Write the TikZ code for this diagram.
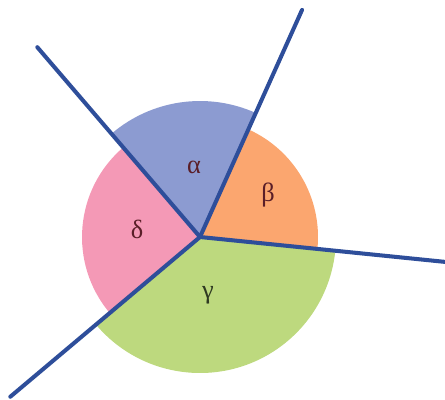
\documentclass[tikz,border=0pt]{standalone}
\usepackage{fontspec}
\setmainfont{Liberation Serif}
\definecolor{lineBlue}{HTML}{2E4E9A}
\definecolor{secA}{HTML}{8C9BD1}
\definecolor{secB}{HTML}{FBA66F}
\definecolor{secC}{HTML}{BDD97E}
\definecolor{secD}{HTML}{F499B6}
\definecolor{labRed}{HTML}{5A1E28}
\definecolor{labDark}{HTML}{2F3A22}

\begin{document}
\begin{tikzpicture}[x=0.02cm,y=0.02cm,
  ray/.style={draw=lineBlue,line width=2.3pt,line cap=round},
  lab/.style={font=\fontsize{15}{15}\selectfont,text=labRed}]
  \useasboundingbox (-200,-162) rectangle (245,237);
  \coordinate (O) at (0,0);
  \fill[secA] (O) -- (65.8:136) arc[start angle=65.8,end angle=130.6,radius=136] -- cycle;
  \fill[secD] (O) -- (130.6:118) arc[start angle=130.6,end angle=220.1,radius=118] -- cycle;
  \fill[secC] (O) -- (220.1:136) arc[start angle=220.1,end angle=354.2,radius=136] -- cycle;
  \fill[secB] (O) -- (-5.8:118) arc[start angle=-5.8,end angle=65.8,radius=118] -- cycle;
  \node[lab] (alpha) at (-6,70) {α};
  \node[lab] (beta) at (68,42) {β};
  \node[lab] (delta) at (-63,8) {δ};
  \node[lab,text=labDark] (gamma) at (8,-58) {γ};
  \coordinate (endA) at (130.6:250);
  \coordinate (endB) at (65.8:249);
  \coordinate (endC) at (-5.8:246);
  \coordinate (endD) at (220.1:248);
  \draw[ray] (O) -- (endA);
  \draw[ray] (O) -- (endB);
  \draw[ray] (O) -- (endC);
  \draw[ray] (O) -- (endD);
\end{tikzpicture}
\end{document}
